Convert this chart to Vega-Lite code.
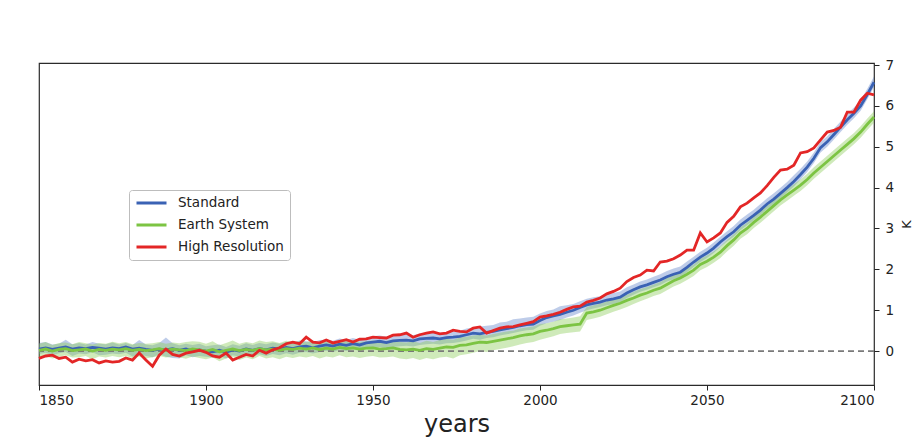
{
  "$schema": "https://vega.github.io/schema/vega-lite/v6.json",
  "width": 835,
  "height": 322,
  "autosize": {"type": "none"},
  "padding": {"left": 39, "top": 63, "right": 43, "bottom": 53},
  "background": "white",
  "config": {
    "font": "DejaVu Sans",
    "view": {"stroke": "#2b2b2b", "strokeWidth": 1.2}
  },
  "data": {
    "values": [
      {"year":1850,"Standard":0.05,"Earth System":0.02,"High Resolution":-0.18,"std_lo":-0.07,"std_hi":0.20,"es_lo":-0.15,"es_hi":0.18},
      {"year":1852,"Standard":0.08,"Earth System":0.05,"High Resolution":-0.12,"std_lo":-0.04,"std_hi":0.22,"es_lo":-0.12,"es_hi":0.22},
      {"year":1854,"Standard":0.04,"Earth System":0.00,"High Resolution":-0.10,"std_lo":-0.10,"std_hi":0.16,"es_lo":-0.18,"es_hi":0.15},
      {"year":1856,"Standard":0.07,"Earth System":0.04,"High Resolution":-0.18,"std_lo":-0.05,"std_hi":0.18,"es_lo":-0.14,"es_hi":0.20},
      {"year":1858,"Standard":0.10,"Earth System":0.06,"High Resolution":-0.15,"std_lo":-0.02,"std_hi":0.28,"es_lo":-0.10,"es_hi":0.21},
      {"year":1860,"Standard":0.05,"Earth System":0.01,"High Resolution":-0.27,"std_lo":-0.12,"std_hi":0.17,"es_lo":-0.16,"es_hi":0.17},
      {"year":1862,"Standard":0.08,"Earth System":0.03,"High Resolution":-0.20,"std_lo":-0.06,"std_hi":0.20,"es_lo":-0.15,"es_hi":0.22},
      {"year":1864,"Standard":0.06,"Earth System":0.05,"High Resolution":-0.24,"std_lo":-0.08,"std_hi":0.16,"es_lo":-0.12,"es_hi":0.19},
      {"year":1866,"Standard":0.09,"Earth System":0.00,"High Resolution":-0.21,"std_lo":-0.03,"std_hi":0.22,"es_lo":-0.20,"es_hi":0.16},
      {"year":1868,"Standard":0.07,"Earth System":0.04,"High Resolution":-0.29,"std_lo":-0.10,"std_hi":0.18,"es_lo":-0.13,"es_hi":0.20},
      {"year":1870,"Standard":0.05,"Earth System":0.02,"High Resolution":-0.24,"std_lo":-0.09,"std_hi":0.17,"es_lo":-0.16,"es_hi":0.18},
      {"year":1872,"Standard":0.08,"Earth System":0.05,"High Resolution":-0.27,"std_lo":-0.06,"std_hi":0.21,"es_lo":-0.12,"es_hi":0.23},
      {"year":1874,"Standard":0.06,"Earth System":0.03,"High Resolution":-0.25,"std_lo":-0.08,"std_hi":0.16,"es_lo":-0.15,"es_hi":0.19},
      {"year":1876,"Standard":0.10,"Earth System":0.06,"High Resolution":-0.17,"std_lo":-0.04,"std_hi":0.20,"es_lo":-0.12,"es_hi":0.22},
      {"year":1878,"Standard":0.05,"Earth System":0.02,"High Resolution":-0.22,"std_lo":-0.13,"std_hi":0.15,"es_lo":-0.17,"es_hi":0.17},
      {"year":1880,"Standard":0.07,"Earth System":0.04,"High Resolution":-0.05,"std_lo":-0.07,"std_hi":0.27,"es_lo":-0.13,"es_hi":0.20},
      {"year":1882,"Standard":0.04,"Earth System":0.01,"High Resolution":-0.22,"std_lo":-0.12,"std_hi":0.16,"es_lo":-0.18,"es_hi":0.18},
      {"year":1884,"Standard":0.02,"Earth System":0.03,"High Resolution":-0.37,"std_lo":-0.15,"std_hi":0.14,"es_lo":-0.15,"es_hi":0.19},
      {"year":1886,"Standard":0.05,"Earth System":0.06,"High Resolution":-0.10,"std_lo":-0.08,"std_hi":0.20,"es_lo":-0.12,"es_hi":0.22},
      {"year":1888,"Standard":0.03,"Earth System":0.02,"High Resolution":0.05,"std_lo":-0.14,"std_hi":0.33,"es_lo":-0.16,"es_hi":0.18},
      {"year":1890,"Standard":0.06,"Earth System":0.05,"High Resolution":-0.08,"std_lo":-0.17,"std_hi":0.19,"es_lo":-0.13,"es_hi":0.21},
      {"year":1892,"Standard":0.02,"Earth System":0.03,"High Resolution":-0.12,"std_lo":-0.18,"std_hi":0.14,"es_lo":-0.15,"es_hi":0.19},
      {"year":1894,"Standard":0.05,"Earth System":0.01,"High Resolution":-0.05,"std_lo":-0.10,"std_hi":0.18,"es_lo":-0.19,"es_hi":0.22},
      {"year":1896,"Standard":0.00,"Earth System":0.05,"High Resolution":-0.02,"std_lo":-0.15,"std_hi":0.15,"es_lo":-0.13,"es_hi":0.24},
      {"year":1898,"Standard":0.03,"Earth System":0.03,"High Resolution":0.02,"std_lo":-0.12,"std_hi":0.18,"es_lo":-0.17,"es_hi":0.23},
      {"year":1900,"Standard":0.00,"Earth System":0.00,"High Resolution":-0.03,"std_lo":-0.14,"std_hi":0.12,"es_lo":-0.20,"es_hi":0.18},
      {"year":1902,"Standard":-0.02,"Earth System":0.04,"High Resolution":-0.12,"std_lo":-0.16,"std_hi":0.14,"es_lo":-0.16,"es_hi":0.24},
      {"year":1904,"Standard":0.02,"Earth System":-0.02,"High Resolution":-0.15,"std_lo":-0.12,"std_hi":0.16,"es_lo":-0.25,"es_hi":0.14},
      {"year":1906,"Standard":-0.03,"Earth System":0.02,"High Resolution":-0.05,"std_lo":-0.18,"std_hi":0.10,"es_lo":-0.18,"es_hi":0.20},
      {"year":1908,"Standard":0.03,"Earth System":0.05,"High Resolution":-0.22,"std_lo":-0.10,"std_hi":0.17,"es_lo":-0.14,"es_hi":0.26},
      {"year":1910,"Standard":0.00,"Earth System":0.01,"High Resolution":-0.15,"std_lo":-0.14,"std_hi":0.13,"es_lo":-0.22,"es_hi":0.18},
      {"year":1912,"Standard":0.05,"Earth System":0.04,"High Resolution":-0.08,"std_lo":-0.09,"std_hi":0.19,"es_lo":-0.16,"es_hi":0.22},
      {"year":1914,"Standard":0.02,"Earth System":0.02,"High Resolution":-0.12,"std_lo":-0.12,"std_hi":0.15,"es_lo":-0.20,"es_hi":0.19},
      {"year":1916,"Standard":0.06,"Earth System":0.06,"High Resolution":0.02,"std_lo":-0.08,"std_hi":0.20,"es_lo":-0.12,"es_hi":0.26},
      {"year":1918,"Standard":0.03,"Earth System":0.03,"High Resolution":-0.05,"std_lo":-0.12,"std_hi":0.17,"es_lo":-0.18,"es_hi":0.22},
      {"year":1920,"Standard":0.07,"Earth System":0.05,"High Resolution":0.03,"std_lo":-0.07,"std_hi":0.21,"es_lo":-0.15,"es_hi":0.24},
      {"year":1922,"Standard":0.05,"Earth System":0.02,"High Resolution":0.08,"std_lo":-0.10,"std_hi":0.18,"es_lo":-0.20,"es_hi":0.20},
      {"year":1924,"Standard":0.09,"Earth System":0.06,"High Resolution":0.18,"std_lo":-0.05,"std_hi":0.22,"es_lo":-0.14,"es_hi":0.25},
      {"year":1926,"Standard":0.06,"Earth System":0.04,"High Resolution":0.22,"std_lo":-0.09,"std_hi":0.20,"es_lo":-0.17,"es_hi":0.22},
      {"year":1928,"Standard":0.10,"Earth System":0.07,"High Resolution":0.18,"std_lo":-0.04,"std_hi":0.26,"es_lo":-0.13,"es_hi":0.24},
      {"year":1930,"Standard":0.12,"Earth System":0.05,"High Resolution":0.34,"std_lo":-0.02,"std_hi":0.24,"es_lo":-0.16,"es_hi":0.22},
      {"year":1932,"Standard":0.08,"Earth System":0.08,"High Resolution":0.22,"std_lo":-0.06,"std_hi":0.21,"es_lo":-0.12,"es_hi":0.26},
      {"year":1934,"Standard":0.12,"Earth System":0.04,"High Resolution":0.20,"std_lo":-0.02,"std_hi":0.27,"es_lo":-0.18,"es_hi":0.20},
      {"year":1936,"Standard":0.15,"Earth System":0.07,"High Resolution":0.27,"std_lo":0.01,"std_hi":0.28,"es_lo":-0.13,"es_hi":0.24},
      {"year":1938,"Standard":0.12,"Earth System":0.05,"High Resolution":0.20,"std_lo":-0.03,"std_hi":0.25,"es_lo":-0.16,"es_hi":0.22},
      {"year":1940,"Standard":0.17,"Earth System":0.09,"High Resolution":0.24,"std_lo":0.03,"std_hi":0.31,"es_lo":-0.10,"es_hi":0.26},
      {"year":1942,"Standard":0.14,"Earth System":0.06,"High Resolution":0.28,"std_lo":0.00,"std_hi":0.27,"es_lo":-0.15,"es_hi":0.24},
      {"year":1944,"Standard":0.18,"Earth System":0.08,"High Resolution":0.22,"std_lo":0.04,"std_hi":0.32,"es_lo":-0.13,"es_hi":0.25},
      {"year":1946,"Standard":0.15,"Earth System":0.05,"High Resolution":0.29,"std_lo":0.01,"std_hi":0.28,"es_lo":-0.17,"es_hi":0.22},
      {"year":1948,"Standard":0.20,"Earth System":0.07,"High Resolution":0.30,"std_lo":0.06,"std_hi":0.33,"es_lo":-0.14,"es_hi":0.24},
      {"year":1950,"Standard":0.22,"Earth System":0.08,"High Resolution":0.34,"std_lo":0.08,"std_hi":0.36,"es_lo":-0.12,"es_hi":0.26},
      {"year":1952,"Standard":0.24,"Earth System":0.05,"High Resolution":0.33,"std_lo":0.10,"std_hi":0.38,"es_lo":-0.16,"es_hi":0.23},
      {"year":1954,"Standard":0.21,"Earth System":0.06,"High Resolution":0.32,"std_lo":0.07,"std_hi":0.35,"es_lo":-0.15,"es_hi":0.25},
      {"year":1956,"Standard":0.25,"Earth System":0.08,"High Resolution":0.39,"std_lo":0.10,"std_hi":0.42,"es_lo":-0.13,"es_hi":0.27},
      {"year":1958,"Standard":0.26,"Earth System":0.04,"High Resolution":0.40,"std_lo":0.12,"std_hi":0.40,"es_lo":-0.18,"es_hi":0.22},
      {"year":1960,"Standard":0.27,"Earth System":0.03,"High Resolution":0.44,"std_lo":0.13,"std_hi":0.44,"es_lo":-0.20,"es_hi":0.21},
      {"year":1962,"Standard":0.25,"Earth System":0.05,"High Resolution":0.34,"std_lo":0.11,"std_hi":0.39,"es_lo":-0.17,"es_hi":0.24},
      {"year":1964,"Standard":0.30,"Earth System":0.02,"High Resolution":0.40,"std_lo":0.15,"std_hi":0.43,"es_lo":-0.22,"es_hi":0.20},
      {"year":1966,"Standard":0.31,"Earth System":0.06,"High Resolution":0.44,"std_lo":0.17,"std_hi":0.45,"es_lo":-0.17,"es_hi":0.25},
      {"year":1968,"Standard":0.32,"Earth System":0.04,"High Resolution":0.47,"std_lo":0.18,"std_hi":0.46,"es_lo":-0.20,"es_hi":0.22},
      {"year":1970,"Standard":0.30,"Earth System":0.07,"High Resolution":0.42,"std_lo":0.16,"std_hi":0.44,"es_lo":-0.16,"es_hi":0.27},
      {"year":1972,"Standard":0.33,"Earth System":0.10,"High Resolution":0.44,"std_lo":0.19,"std_hi":0.47,"es_lo":-0.14,"es_hi":0.30},
      {"year":1974,"Standard":0.34,"Earth System":0.09,"High Resolution":0.51,"std_lo":0.20,"std_hi":0.48,"es_lo":-0.18,"es_hi":0.28},
      {"year":1976,"Standard":0.36,"Earth System":0.14,"High Resolution":0.48,"std_lo":0.22,"std_hi":0.50,"es_lo":-0.10,"es_hi":0.33},
      {"year":1978,"Standard":0.40,"Earth System":0.15,"High Resolution":0.47,"std_lo":0.26,"std_hi":0.55,"es_lo":-0.08,"es_hi":0.35},
      {"year":1980,"Standard":0.44,"Earth System":0.19,"High Resolution":0.56,"std_lo":0.30,"std_hi":0.58,"es_lo":-0.04,"es_hi":0.38},
      {"year":1982,"Standard":0.42,"Earth System":0.22,"High Resolution":0.59,"std_lo":0.28,"std_hi":0.60,"es_lo":0.00,"es_hi":0.40},
      {"year":1984,"Standard":0.46,"Earth System":0.21,"High Resolution":0.44,"std_lo":0.32,"std_hi":0.62,"es_lo":-0.02,"es_hi":0.38},
      {"year":1986,"Standard":0.48,"Earth System":0.24,"High Resolution":0.50,"std_lo":0.34,"std_hi":0.64,"es_lo":0.02,"es_hi":0.42},
      {"year":1988,"Standard":0.52,"Earth System":0.27,"High Resolution":0.56,"std_lo":0.38,"std_hi":0.70,"es_lo":0.05,"es_hi":0.45},
      {"year":1990,"Standard":0.55,"Earth System":0.30,"High Resolution":0.59,"std_lo":0.41,"std_hi":0.72,"es_lo":0.08,"es_hi":0.48},
      {"year":1992,"Standard":0.58,"Earth System":0.33,"High Resolution":0.60,"std_lo":0.44,"std_hi":0.78,"es_lo":0.12,"es_hi":0.50},
      {"year":1994,"Standard":0.62,"Earth System":0.37,"High Resolution":0.64,"std_lo":0.48,"std_hi":0.80,"es_lo":0.16,"es_hi":0.55},
      {"year":1996,"Standard":0.65,"Earth System":0.40,"High Resolution":0.68,"std_lo":0.51,"std_hi":0.82,"es_lo":0.20,"es_hi":0.58},
      {"year":1998,"Standard":0.66,"Earth System":0.42,"High Resolution":0.72,"std_lo":0.52,"std_hi":0.84,"es_lo":0.22,"es_hi":0.60},
      {"year":2000,"Standard":0.75,"Earth System":0.48,"High Resolution":0.83,"std_lo":0.62,"std_hi":0.92,"es_lo":0.28,"es_hi":0.66},
      {"year":2002,"Standard":0.82,"Earth System":0.51,"High Resolution":0.86,"std_lo":0.68,"std_hi":0.98,"es_lo":0.32,"es_hi":0.68},
      {"year":2004,"Standard":0.86,"Earth System":0.55,"High Resolution":0.90,"std_lo":0.72,"std_hi":1.02,"es_lo":0.36,"es_hi":0.72},
      {"year":2006,"Standard":0.90,"Earth System":0.60,"High Resolution":0.95,"std_lo":0.76,"std_hi":1.10,"es_lo":0.42,"es_hi":0.78},
      {"year":2008,"Standard":0.95,"Earth System":0.62,"High Resolution":1.02,"std_lo":0.82,"std_hi":1.12,"es_lo":0.44,"es_hi":0.80},
      {"year":2010,"Standard":1.00,"Earth System":0.64,"High Resolution":1.08,"std_lo":0.87,"std_hi":1.15,"es_lo":0.46,"es_hi":0.82},
      {"year":2012,"Standard":1.07,"Earth System":0.66,"High Resolution":1.10,"std_lo":0.94,"std_hi":1.22,"es_lo":0.48,"es_hi":0.85},
      {"year":2014,"Standard":1.13,"Earth System":0.93,"High Resolution":1.20,"std_lo":1.00,"std_hi":1.28,"es_lo":0.76,"es_hi":1.08},
      {"year":2016,"Standard":1.17,"Earth System":0.96,"High Resolution":1.24,"std_lo":1.04,"std_hi":1.32,"es_lo":0.80,"es_hi":1.12},
      {"year":2018,"Standard":1.20,"Earth System":1.00,"High Resolution":1.30,"std_lo":1.08,"std_hi":1.34,"es_lo":0.84,"es_hi":1.16},
      {"year":2020,"Standard":1.25,"Earth System":1.06,"High Resolution":1.40,"std_lo":1.12,"std_hi":1.40,"es_lo":0.90,"es_hi":1.22},
      {"year":2022,"Standard":1.28,"Earth System":1.12,"High Resolution":1.46,"std_lo":1.15,"std_hi":1.42,"es_lo":0.96,"es_hi":1.27},
      {"year":2024,"Standard":1.32,"Earth System":1.17,"High Resolution":1.54,"std_lo":1.20,"std_hi":1.46,"es_lo":1.02,"es_hi":1.32},
      {"year":2026,"Standard":1.42,"Earth System":1.24,"High Resolution":1.70,"std_lo":1.30,"std_hi":1.56,"es_lo":1.08,"es_hi":1.38},
      {"year":2028,"Standard":1.50,"Earth System":1.30,"High Resolution":1.80,"std_lo":1.38,"std_hi":1.63,"es_lo":1.15,"es_hi":1.45},
      {"year":2030,"Standard":1.57,"Earth System":1.37,"High Resolution":1.86,"std_lo":1.45,"std_hi":1.70,"es_lo":1.22,"es_hi":1.52},
      {"year":2032,"Standard":1.62,"Earth System":1.42,"High Resolution":1.98,"std_lo":1.50,"std_hi":1.75,"es_lo":1.28,"es_hi":1.57},
      {"year":2034,"Standard":1.68,"Earth System":1.49,"High Resolution":1.96,"std_lo":1.56,"std_hi":1.82,"es_lo":1.35,"es_hi":1.63},
      {"year":2036,"Standard":1.74,"Earth System":1.54,"High Resolution":2.18,"std_lo":1.62,"std_hi":1.88,"es_lo":1.40,"es_hi":1.69},
      {"year":2038,"Standard":1.82,"Earth System":1.63,"High Resolution":2.20,"std_lo":1.70,"std_hi":1.96,"es_lo":1.49,"es_hi":1.78},
      {"year":2040,"Standard":1.88,"Earth System":1.72,"High Resolution":2.26,"std_lo":1.76,"std_hi":2.02,"es_lo":1.58,"es_hi":1.86},
      {"year":2042,"Standard":1.93,"Earth System":1.79,"High Resolution":2.35,"std_lo":1.81,"std_hi":2.07,"es_lo":1.65,"es_hi":1.93},
      {"year":2044,"Standard":2.05,"Earth System":1.88,"High Resolution":2.47,"std_lo":1.93,"std_hi":2.19,"es_lo":1.74,"es_hi":2.02},
      {"year":2046,"Standard":2.18,"Earth System":1.98,"High Resolution":2.47,"std_lo":2.06,"std_hi":2.31,"es_lo":1.84,"es_hi":2.12},
      {"year":2048,"Standard":2.30,"Earth System":2.12,"High Resolution":2.89,"std_lo":2.18,"std_hi":2.43,"es_lo":1.98,"es_hi":2.26},
      {"year":2050,"Standard":2.40,"Earth System":2.20,"High Resolution":2.67,"std_lo":2.28,"std_hi":2.53,"es_lo":2.06,"es_hi":2.34},
      {"year":2052,"Standard":2.52,"Earth System":2.30,"High Resolution":2.77,"std_lo":2.40,"std_hi":2.66,"es_lo":2.16,"es_hi":2.44},
      {"year":2054,"Standard":2.67,"Earth System":2.42,"High Resolution":2.89,"std_lo":2.55,"std_hi":2.80,"es_lo":2.28,"es_hi":2.56},
      {"year":2056,"Standard":2.80,"Earth System":2.58,"High Resolution":3.15,"std_lo":2.68,"std_hi":2.93,"es_lo":2.44,"es_hi":2.72},
      {"year":2058,"Standard":2.92,"Earth System":2.72,"High Resolution":3.30,"std_lo":2.80,"std_hi":3.06,"es_lo":2.58,"es_hi":2.86},
      {"year":2060,"Standard":3.08,"Earth System":2.89,"High Resolution":3.53,"std_lo":2.96,"std_hi":3.22,"es_lo":2.75,"es_hi":3.03},
      {"year":2062,"Standard":3.20,"Earth System":3.00,"High Resolution":3.62,"std_lo":3.08,"std_hi":3.34,"es_lo":2.86,"es_hi":3.14},
      {"year":2064,"Standard":3.32,"Earth System":3.15,"High Resolution":3.75,"std_lo":3.20,"std_hi":3.46,"es_lo":3.01,"es_hi":3.29},
      {"year":2066,"Standard":3.45,"Earth System":3.28,"High Resolution":3.87,"std_lo":3.33,"std_hi":3.60,"es_lo":3.14,"es_hi":3.42},
      {"year":2068,"Standard":3.60,"Earth System":3.42,"High Resolution":4.05,"std_lo":3.48,"std_hi":3.74,"es_lo":3.28,"es_hi":3.56},
      {"year":2070,"Standard":3.72,"Earth System":3.56,"High Resolution":4.25,"std_lo":3.60,"std_hi":3.86,"es_lo":3.42,"es_hi":3.70},
      {"year":2072,"Standard":3.86,"Earth System":3.70,"High Resolution":4.43,"std_lo":3.74,"std_hi":4.00,"es_lo":3.56,"es_hi":3.84},
      {"year":2074,"Standard":4.00,"Earth System":3.82,"High Resolution":4.45,"std_lo":3.88,"std_hi":4.14,"es_lo":3.68,"es_hi":3.96},
      {"year":2076,"Standard":4.15,"Earth System":3.94,"High Resolution":4.55,"std_lo":4.03,"std_hi":4.30,"es_lo":3.80,"es_hi":4.08},
      {"year":2078,"Standard":4.32,"Earth System":4.06,"High Resolution":4.85,"std_lo":4.20,"std_hi":4.46,"es_lo":3.92,"es_hi":4.20},
      {"year":2080,"Standard":4.50,"Earth System":4.20,"High Resolution":4.88,"std_lo":4.38,"std_hi":4.64,"es_lo":4.06,"es_hi":4.34},
      {"year":2082,"Standard":4.72,"Earth System":4.36,"High Resolution":4.97,"std_lo":4.60,"std_hi":4.86,"es_lo":4.22,"es_hi":4.50},
      {"year":2084,"Standard":4.98,"Earth System":4.50,"High Resolution":5.17,"std_lo":4.86,"std_hi":5.12,"es_lo":4.36,"es_hi":4.64},
      {"year":2086,"Standard":5.12,"Earth System":4.64,"High Resolution":5.36,"std_lo":5.00,"std_hi":5.26,"es_lo":4.50,"es_hi":4.78},
      {"year":2088,"Standard":5.30,"Earth System":4.78,"High Resolution":5.40,"std_lo":5.18,"std_hi":5.44,"es_lo":4.64,"es_hi":4.92},
      {"year":2090,"Standard":5.48,"Earth System":4.92,"High Resolution":5.48,"std_lo":5.36,"std_hi":5.62,"es_lo":4.78,"es_hi":5.06},
      {"year":2092,"Standard":5.66,"Earth System":5.06,"High Resolution":5.85,"std_lo":5.54,"std_hi":5.80,"es_lo":4.92,"es_hi":5.20},
      {"year":2094,"Standard":5.82,"Earth System":5.20,"High Resolution":5.85,"std_lo":5.70,"std_hi":5.96,"es_lo":5.06,"es_hi":5.34},
      {"year":2096,"Standard":6.00,"Earth System":5.36,"High Resolution":6.14,"std_lo":5.88,"std_hi":6.14,"es_lo":5.22,"es_hi":5.50},
      {"year":2098,"Standard":6.28,"Earth System":5.55,"High Resolution":6.31,"std_lo":6.16,"std_hi":6.42,"es_lo":5.41,"es_hi":5.69},
      {"year":2100,"Standard":6.58,"Earth System":5.73,"High Resolution":6.27,"std_lo":6.46,"std_hi":6.72,"es_lo":5.59,"es_hi":5.87}
    ]
  },
  "layer": [
    {
      "mark": {"type": "area", "color": "#5479c6", "opacity": 0.38},
      "encoding": {
        "x": {
          "field": "year", "type": "quantitative",
          "scale": {"domain": [1850, 2100], "nice": false, "zero": false},
          "axis": {
            "values": [1850, 1900, 1950, 2000, 2050, 2100], "format": "d",
            "grid": false, "domain": false,
            "tickColor": "#222", "tickSize": 5, "labelPadding": 3,
            "labelFontSize": 13.5, "labelColor": "#222",
            "title": "years", "titleFontSize": 24, "titleFontWeight": "normal",
            "titleColor": "#222", "titlePadding": 6
          }
        },
        "y": {
          "field": "std_lo", "type": "quantitative",
          "scale": {"domain": [-0.83, 7.05], "nice": false, "zero": false},
          "axis": {
            "orient": "right", "values": [0, 1, 2, 3, 4, 5, 6, 7],
            "grid": false, "domain": false,
            "tickColor": "#222", "tickSize": 5, "labelPadding": 6,
            "labelFontSize": 13.5, "labelColor": "#222",
            "title": "K", "titleAngle": 270, "titleFontSize": 13,
            "titleFontWeight": "normal", "titleColor": "#222", "titlePadding": 20
          }
        },
        "y2": {"field": "std_hi"}
      }
    },
    {
      "mark": {"type": "area", "color": "#8ccd5a", "opacity": 0.42},
      "encoding": {
        "x": {"field": "year", "type": "quantitative"},
        "y": {"field": "es_lo", "type": "quantitative"},
        "y2": {"field": "es_hi"}
      }
    },
    {
      "data": {"values": [{"level": 0}]},
      "mark": {"type": "rule", "color": "#7a7a7a", "strokeDash": [6, 4], "strokeWidth": 1.6},
      "encoding": {"y": {"field": "level", "type": "quantitative"}}
    },
    {
      "transform": [{"fold": ["Standard", "Earth System", "High Resolution"], "as": ["series", "temp"]}],
      "mark": {"type": "line", "strokeWidth": 2.8},
      "encoding": {
        "x": {"field": "year", "type": "quantitative"},
        "y": {"field": "temp", "type": "quantitative"},
        "color": {
          "field": "series", "type": "nominal",
          "scale": {
            "domain": ["Standard", "Earth System", "High Resolution"],
            "range": ["#3a62b4", "#7cc443", "#e32626"]
          },
          "legend": {
            "orient": "none", "legendX": 90, "legendY": 127,
            "title": null, "symbolType": "stroke", "symbolSize": 900,
            "symbolStrokeWidth": 3, "labelFontSize": 13.5, "labelColor": "#222",
            "labelOffset": 10, "padding": 6, "rowPadding": 8, "clipHeight": 14,
            "strokeColor": "#bdbdbd", "fillColor": "white", "cornerRadius": 3
          }
        }
      }
    }
  ]
}
